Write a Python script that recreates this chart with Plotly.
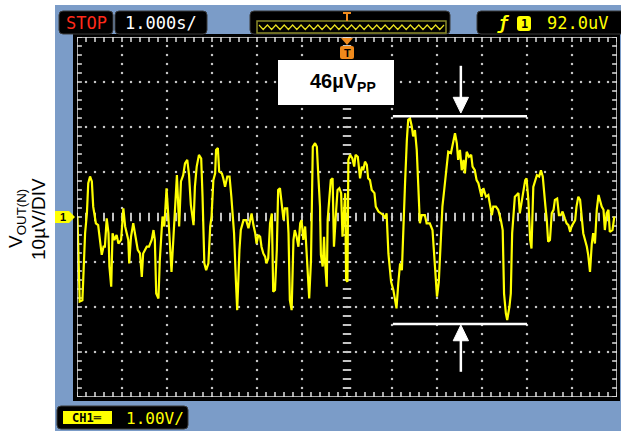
import numpy as np
import plotly.graph_objects as go

W, H = 621, 431

# ---- waveform (time in s, 1 s/div; output noise in µV, 10 µV/div) ----
time_s = [
    -5.99, -5.97, -5.94, -5.88, -5.86, -5.82, -5.78, -5.75, -5.71, -5.67,
    -5.64, -5.58, -5.53, -5.49, -5.45, -5.41, -5.38, -5.34, -5.30, -5.28,
    -5.24, -5.21, -5.17, -5.12, -5.08, -5.02, -4.97, -4.93, -4.90, -4.86,
    -4.84, -4.80, -4.75, -4.70, -4.65, -4.60, -4.56, -4.53, -4.45, -4.40,
    -4.34, -4.30, -4.27, -4.24, -4.19, -4.16, -4.12, -4.10, -4.06, -4.03,
    -4.01, -3.97, -3.94, -3.90, -3.86, -3.82, -3.78, -3.73, -3.69, -3.64,
    -3.60, -3.55, -3.51, -3.47, -3.41, -3.38, -3.34, -3.29, -3.24, -3.21,
    -3.17, -3.13, -3.08, -3.04, -3.01, -2.97, -2.93,
    -2.91, -2.87, -2.84, -2.78, -2.75, -2.71, -2.66, -2.61, -2.57, -2.54,
    -2.51, -2.47, -2.44, -2.39, -2.36, -2.30, -2.24, -2.19, -2.16, -2.12,
    -2.08, -2.04, -2.01, -1.97, -1.93, -1.90, -1.86, -1.82, -1.79, -1.75,
    -1.71, -1.67, -1.64, -1.60, -1.56, -1.53, -1.49, -1.45, -1.41, -1.38,
    -1.33, -1.30, -1.27, -1.23, -1.19, -1.16, -1.12, -1.08, -1.04, -1.01,
    -0.97, -0.93, -0.90, -0.86, -0.84, -0.80, -0.76, -0.71, -0.67, -0.64,
    -0.60, -0.58, -0.54, -0.51, -0.49, -0.45, -0.43, -0.39, -0.36, -0.32,
    -0.29, -0.24, -0.21, -0.17, -0.13, -0.10, -0.04, -0.02, 0.01, 0.03,
    0.07, 0.12, 0.16, 0.19, 0.24, 0.29, 0.33, 0.36, 0.40, 0.44,
    0.47, 0.51, 0.55, 0.61, 0.64, 0.70, 0.76, 0.81, 0.85, 0.88,
    0.92, 0.98, 1.03, 1.07, 1.10, 1.14, 1.18, 1.22, 1.25, 1.29,
    1.33, 1.36, 1.40, 1.44, 1.47, 1.51, 1.55, 1.59, 1.62, 1.66,
    1.73, 1.77, 1.84, 1.90, 1.93, 1.97, 2.00, 2.04, 2.09, 2.12,
    2.16, 2.19, 2.25, 2.31, 2.36, 2.40, 2.44, 2.47, 2.51, 2.55,
    2.59, 2.62, 2.66, 2.71, 2.76, 2.79, 2.84, 2.88, 2.92, 2.96,
    2.99, 3.03,
    3.09, 3.14, 3.18, 3.22, 3.25, 3.31, 3.36, 3.42, 3.46, 3.49,
    3.53, 3.56, 3.61, 3.64, 3.67, 3.70, 3.73, 3.77, 3.81, 3.84,
    3.88, 3.92, 3.96, 3.99, 4.03, 4.07, 4.10, 4.14, 4.18, 4.22,
    4.27, 4.31, 4.35, 4.38, 4.41, 4.44, 4.47, 4.51, 4.55, 4.59,
    4.62, 4.67, 4.71, 4.75, 4.79, 4.84, 4.88, 4.92, 4.96, 4.99,
    5.03, 5.07, 5.10, 5.14, 5.18, 5.22, 5.25, 5.29, 5.33, 5.36,
    5.40, 5.44, 5.47, 5.51, 5.55, 5.59, 5.62, 5.66, 5.70, 5.73,
    5.77, 5.81, 5.84, 5.90, 5.94,
]
vout_uV = [
    0.1, -11.0, -18.8, -18.5, -14.4, -3.6, 0.8, 7.5, 9.0, 7.9,
    2.3, -1.4, -1.8, -5.9, -8.4, -6.6, -6.6, -0.3, -3.6, -11.0,
    -15.5, -3.6, -5.1, -4.0, -5.9, -5.1, 1.9, -2.1, -3.3, -5.1,
    -10.3, -4.4, -1.4, -4.4, -7.3, -8.1, -13.3, -8.1, -6.6, -6.6,
    -5.1, -2.9, -5.1, -17.0, -18.1, -9.6, -3.6, 0.1, -2.1, 4.5,
    6.4, 0.1, -6.6, -12.2, -5.1, 1.6, 9.3, -2.1, 7.9, 9.3,
    11.9, 12.7, 9.3, 2.7, -1.8, 6.7, 11.2, 13.8, 13.0, 4.5,
    -10.3, -11.8, -10.3, -2.1, 0.1, 8.2, 9.7,
    14.9, 15.3, 10.1, 9.7, 8.6, 6.7, 9.0, 9.0, 4.5, 0.8,
    -3.6, -14.0, -20.7, -7.3, -2.9, -0.7, -0.7, -2.5, -0.7, 0.8,
    -1.8, -3.6, -5.9, -4.0, -4.4, -6.6, -8.1, -8.8, -10.3, -9.2,
    -1.4, 0.8, -16.6, -16.2, -7.3, 6.0, 6.4, 3.0, -0.7, 1.9,
    1.9, -3.6, -18.5, -20.7, -5.1, -2.9, -4.4, -6.6, -1.4, -0.7,
    -5.1, -2.1, -7.3, -14.0, -18.1, -9.6, 15.6, 16.4, 15.6, 9.7,
    2.3, -8.4, -11.0, -4.4, -9.6, -15.5, -0.7, 4.5, 8.2, 8.6,
    -6.6, 1.6, 6.0, 6.4, 5.3, -4.4, 5.3, -14.0, -14.4, 12.7,
    13.8, 13.0, 11.2, 13.8, 13.4, 8.6, 11.2, 10.4, 12.3, 11.6,
    8.6, 8.2, 6.0, 5.3, 2.3, 1.2, 0.8, 0.4, -0.3, 0.8,
    -8.1, -14.4, -16.2, -18.5, -20.3, -14.7, -10.3, -11.8, -2.1, 7.5,
    17.1, 21.6, 21.9, 20.1, 17.9, 19.3, 14.9, 3.8, -1.4, 0.4,
    0.4, -1.4, -1.4, -2.9, -8.1, -14.4, -17.7, -14.4, -3.6, 2.3,
    6.0, 9.0, 14.5, 14.2, 17.1, 18.6, 16.4, 12.7, 14.9, 10.4,
    12.7, 9.7, 14.5, 13.4, 13.8, 11.2, 10.4, 8.2, 7.5, 6.0,
    4.5, 6.4,
    4.5, 4.9, 3.0, 0.4, 2.3, 2.3, 1.6, -0.7, -2.9, -17.0,
    -21.4, -22.9, -19.9, -17.0, -3.6, 1.6, 4.5, 4.9, 5.3, 0.8,
    3.0, 6.0, 8.2, 8.6, 3.8, -5.1, -7.0, 6.7, 8.2, 9.3,
    9.0, 10.4, 9.0, 4.5, 2.3, -0.7, -5.5, -5.1, 0.8, 1.6,
    3.8, 4.1, 0.4, 0.4, 1.2, -0.3, -1.4, -1.8, -3.3, -2.1,
    -1.4, -0.7, 2.3, 4.5, 3.8, -0.7, -3.6, -5.1, -6.6, -8.4,
    -12.2, -5.9, -3.6, -5.9, 1.6, 4.9, 3.8, 2.3, 1.6, -2.9,
    0.8, 1.6, -3.3, -2.9, 0.1,
]

# screen scales
x_range = [-6, 6]      # 12 divisions x 1 s
y_range = [-40, 40]    # 8 divisions x 10 µV
x_div = 1.0
y_div = 10.0

# peak-to-peak markers
pp_top_uV = 22.4
pp_bottom_uV = -23.8
pp_t_start, pp_t_end = 1.02, 4.00
arrow_t = 2.53

# texts
pp_label = "<b>46µV<sub>PP</sub></b>"
timebase_label = "1.000s/"
run_label = "STOP"
trigger_level_label = "92.0uV"
ch_label = "1.00V/"
ylabel_1 = "V<sub>OUT(N)</sub>"
ylabel_2 = "10µV/DIV"

BLUE = "#7b9cc8"
YEL = "#ffff00"
GRID = "#c4c4c4"
ORANGE = "#f08a1c"


def X(px):
    return px / W


def Y(py):
    return 1 - py / H


def rrect(x0, y0, x1, y1, r):
    s = "M{},{} L{},{} ".format(X(x0 + r), Y(y0), X(x1 - r), Y(y0))
    s += "Q{},{} {},{} ".format(X(x1), Y(y0), X(x1), Y(y0 + r))
    s += "L{},{} ".format(X(x1), Y(y1 - r))
    s += "Q{},{} {},{} ".format(X(x1), Y(y1), X(x1 - r), Y(y1))
    s += "L{},{} ".format(X(x0 + r), Y(y1))
    s += "Q{},{} {},{} ".format(X(x0), Y(y1), X(x0), Y(y1 - r))
    s += "L{},{} ".format(X(x0), Y(y0 + r))
    s += "Q{},{} {},{} Z".format(X(x0), Y(y0), X(x0 + r), Y(y0))
    return s


def poly(pts):
    return "M" + " L".join("{},{}".format(X(a), Y(b)) for a, b in pts) + " Z"


fig = go.Figure()

# ---- graticule ----
sub_x = np.round(np.arange(x_range[0], x_range[1] + 1e-9, x_div / 5), 4)
sub_y = np.round(np.arange(y_range[0], y_range[1] + 1e-9, y_div / 5), 4)
gx, gy = [], []
for yv in np.arange(y_range[0] + y_div, y_range[1], y_div):
    if abs(yv) < 1e-9:
        continue
    gx += list(sub_x)
    gy += [yv] * len(sub_x)
for xv in np.arange(x_range[0] + x_div, x_range[1], x_div):
    if abs(xv) < 1e-9:
        continue
    gx += [xv] * len(sub_y)
    gy += list(sub_y)
fig.add_trace(go.Scatter(x=gx, y=gy, mode="markers", hoverinfo="skip",
                         marker=dict(symbol="square", size=2.2, color=GRID, line=dict(width=0))))
# centre axes with dense ticks
fig.add_trace(go.Scatter(x=sub_x, y=[0] * len(sub_x), mode="markers", hoverinfo="skip",
                         marker=dict(symbol="line-ns", size=6, line=dict(width=2, color=GRID))))
fig.add_trace(go.Scatter(x=[0] * len(sub_y), y=sub_y, mode="markers", hoverinfo="skip",
                         marker=dict(symbol="line-ew", size=6, line=dict(width=2, color=GRID))))
# border ticks
for yy in y_range:
    fig.add_trace(go.Scatter(x=sub_x, y=[yy] * len(sub_x), mode="markers", hoverinfo="skip",
                             marker=dict(symbol="line-ns", size=7, line=dict(width=1.5, color="#e0e0e0"))))
for xx in x_range:
    fig.add_trace(go.Scatter(x=[xx] * len(sub_y), y=sub_y, mode="markers", hoverinfo="skip",
                             marker=dict(symbol="line-ew", size=7, line=dict(width=1.5, color="#e0e0e0"))))

# ---- waveform ----
fig.add_trace(go.Scatter(x=time_s, y=vout_uV, mode="lines", hoverinfo="skip",
                         line=dict(color=YEL, width=2.2)))

# ---- peak-to-peak markers ----
for v in (pp_top_uV, pp_bottom_uV):
    fig.add_trace(go.Scatter(x=[pp_t_start, pp_t_end], y=[v, v], mode="lines", hoverinfo="skip",
                             line=dict(color="white", width=2.5)))
hw = 0.17
fig.add_trace(go.Scatter(x=[arrow_t, arrow_t], y=[33.6, 26.0], mode="lines", hoverinfo="skip",
                         line=dict(color="white", width=2.5)))
fig.add_trace(go.Scatter(x=[arrow_t - hw, arrow_t + hw, arrow_t, arrow_t - hw],
                         y=[26.6, 26.6, 23.1, 26.6], mode="lines", fill="toself",
                         fillcolor="white", hoverinfo="skip", line=dict(color="white", width=1)))
fig.add_trace(go.Scatter(x=[arrow_t, arrow_t], y=[-34.4, -27.0], mode="lines", hoverinfo="skip",
                         line=dict(color="white", width=2.5)))
fig.add_trace(go.Scatter(x=[arrow_t - hw, arrow_t + hw, arrow_t, arrow_t - hw],
                         y=[-27.5, -27.5, -24.0, -27.5], mode="lines", fill="toself",
                         fillcolor="white", hoverinfo="skip", line=dict(color="white", width=1)))

shapes = []
shapes.append(dict(type="rect", xref="paper", yref="paper", x0=X(55), x1=X(621), y0=Y(431), y1=Y(5),
                   fillcolor=BLUE, line=dict(width=0), layer="below"))
shapes.append(dict(type="rect", xref="paper", yref="paper", x0=X(73), x1=X(620), y0=Y(401), y1=Y(34),
                   fillcolor="black", line=dict(width=0), layer="below"))
shapes.append(dict(type="rect", xref="x", yref="y", x0=x_range[0], x1=x_range[1],
                   y0=y_range[0], y1=y_range[1], line=dict(color="#e0e0e0", width=1.5), layer="above"))
for (a, b) in [(59, 113), (115, 207), (250, 450), (477, 630)]:
    shapes.append(dict(type="path", xref="paper", yref="paper", path=rrect(a, 11, b, 34, 4),
                       fillcolor="black", line=dict(color="#3a3a3a", width=1), layer="above"))
shapes.append(dict(type="rect", xref="paper", yref="paper", x0=X(257), x1=X(446), y0=Y(33), y1=Y(21),
                   fillcolor="rgba(0,0,0,0)", line=dict(color="#8a8a2a", width=1.5), layer="above"))
zz = []
n_half = 44
for i in range(n_half + 1):
    zz.append((259 + i * (185 / n_half), 25 if i % 2 == 0 else 29.5))
shapes.append(dict(type="path", xref="paper", yref="paper",
                   path="M" + " L".join("{},{}".format(X(a), Y(b)) for a, b in zz),
                   line=dict(color="#e8e020", width=1.2), layer="above"))
shapes.append(dict(type="path", xref="paper", yref="paper",
                   path=poly([(343, 12), (351, 12), (351, 14), (348, 14), (348, 21), (346, 21), (346, 14), (343, 14)]),
                   fillcolor=ORANGE, line=dict(width=0), layer="above"))
shapes.append(dict(type="path", xref="paper", yref="paper", path=rrect(517, 16, 531, 31, 3),
                   fillcolor=YEL, line=dict(width=0), layer="above"))
shapes.append(dict(type="path", xref="paper", yref="paper",
                   path=poly([(341, 38), (353, 38), (347, 45)]),
                   fillcolor=ORANGE, line=dict(width=0), layer="above"))
shapes.append(dict(type="path", xref="paper", yref="paper", path=rrect(340, 46, 354, 59, 2),
                   fillcolor=ORANGE, line=dict(width=0), layer="above"))
shapes.append(dict(type="path", xref="paper", yref="paper",
                   path=poly([(55, 211), (69, 211), (75, 217), (69, 223), (55, 223)]),
                   fillcolor=YEL, line=dict(width=0), layer="above"))
shapes.append(dict(type="rect", xref="paper", yref="paper", x0=X(278), x1=X(394), y0=Y(105), y1=Y(60),
                   fillcolor="white", line=dict(width=0), layer="above"))
shapes.append(dict(type="path", xref="paper", yref="paper", path=rrect(57, 406, 188, 429, 4),
                   fillcolor="black", line=dict(color="#3a3a3a", width=1), layer="above"))
shapes.append(dict(type="rect", xref="paper", yref="paper", x0=X(63), x1=X(112), y0=Y(424), y1=Y(411),
                   fillcolor=YEL, line=dict(width=0), layer="above"))

MONO = "DejaVu Sans Mono"
ann = []


def txt(x, y, s, size, color, family=MONO, **kw):
    d = dict(xref="paper", yref="paper", x=X(x), y=Y(y), text=s, showarrow=False,
             xanchor="center", yanchor="middle", font=dict(family=family, size=size, color=color))
    d.update(kw)
    ann.append(d)


txt(86, 23, run_label, 17, "#ff2a1a")
txt(161, 23, timebase_label, 17, "white")
txt(503, 23, "<i><b>ƒ</b></i>", 17, YEL)
txt(524, 23.5, "<b>1</b>", 12, "black")
txt(577, 23, trigger_level_label, 17, YEL)
txt(347, 53, "<b>T</b>", 11, "black", family="Liberation Sans")
txt(63, 217, "<b>1</b>", 11, "black", family="Liberation Sans")
txt(343, 83, pp_label, 20, "black", family="Liberation Sans")
txt(87.5, 418, "<b>CH1═</b>", 12, "black")
txt(155, 418, ch_label, 16, YEL)
txt(17, 219, ylabel_1, 19, "black", family="Liberation Sans", textangle=-90)
txt(39, 219, ylabel_2, 19, "black", family="Liberation Sans", textangle=-90)

fig.update_layout(
    width=W, height=H,
    margin=dict(l=0, r=0, t=0, b=0),
    paper_bgcolor="white", plot_bgcolor="black",
    showlegend=False,
    shapes=shapes, annotations=ann,
    xaxis=dict(range=x_range, domain=[X(77), X(617)], showgrid=False, zeroline=False,
               showticklabels=False, ticks="", fixedrange=True),
    yaxis=dict(range=y_range, domain=[Y(397), Y(37)], showgrid=False, zeroline=False,
               showticklabels=False, ticks="", fixedrange=True),
)

fig.write_html("out.html", config={"displayModeBar": False},
               post_script="document.body.style.margin='0';document.body.style.overflow='hidden';")
